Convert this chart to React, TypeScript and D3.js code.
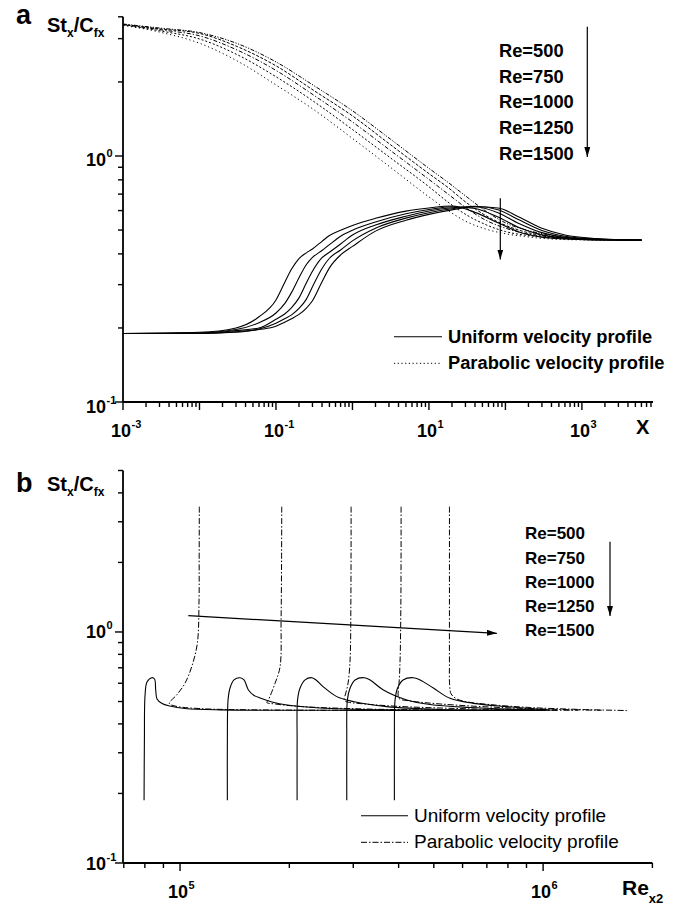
import React from 'react';
import * as d3 from 'd3';

const FONT = "'Liberation Sans', Arial, Helvetica, sans-serif";

// ---------- Panel a data (X vs St_x/C_fx) ----------
const RE_LABELS = ['Re=500', 'Re=750', 'Re=1000', 'Re=1250', 'Re=1500'];

const XA_UNIFORM = [0.001, 0.01, 0.03, 0.06, 0.1, 0.13, 0.16, 0.2, 0.25, 0.3, 0.4, 0.5, 0.7, 1, 2, 5, 10, 20, 40, 80, 150, 300, 600, 1500, 6000];
const UA_500 = [0.19, 0.192, 0.2, 0.222, 0.26, 0.306, 0.347, 0.383, 0.404, 0.419, 0.45, 0.475, 0.499, 0.522, 0.558, 0.597, 0.615, 0.626, 0.59, 0.535, 0.491, 0.468, 0.46, 0.456, 0.455];
const UA_750 = [0.19, 0.191, 0.197, 0.21, 0.23, 0.251, 0.279, 0.32, 0.362, 0.387, 0.413, 0.436, 0.472, 0.499, 0.539, 0.582, 0.606, 0.622, 0.612, 0.565, 0.512, 0.478, 0.463, 0.456, 0.455];
const UA_1000 = [0.19, 0.19, 0.195, 0.2, 0.217, 0.228, 0.242, 0.265, 0.305, 0.34, 0.386, 0.406, 0.439, 0.477, 0.524, 0.569, 0.598, 0.616, 0.622, 0.588, 0.532, 0.488, 0.467, 0.458, 0.455];
const UA_1250 = [0.19, 0.19, 0.193, 0.198, 0.209, 0.218, 0.226, 0.24, 0.262, 0.294, 0.349, 0.384, 0.415, 0.452, 0.509, 0.559, 0.588, 0.61, 0.625, 0.605, 0.55, 0.498, 0.472, 0.46, 0.455];
const UA_1500 = [0.19, 0.19, 0.192, 0.197, 0.203, 0.211, 0.218, 0.227, 0.241, 0.258, 0.308, 0.351, 0.396, 0.429, 0.495, 0.548, 0.579, 0.604, 0.622, 0.615, 0.565, 0.508, 0.477, 0.462, 0.455];

const XA_PARABOLIC = [0.001, 0.00316, 0.01, 0.0316, 0.1, 0.316, 1, 3.16, 10, 17.8, 31.6, 56.2, 100, 178, 316, 1000, 6000];
const PA_500 = [3.4, 3.179, 2.874, 2.428, 1.945, 1.539, 1.179, 0.898, 0.682, 0.6, 0.539, 0.504, 0.483, 0.471, 0.462, 0.456, 0.455];
const PA_750 = [3.41, 3.22, 2.99, 2.576, 2.1, 1.661, 1.281, 0.981, 0.75, 0.649, 0.574, 0.525, 0.493, 0.477, 0.468, 0.458, 0.455];
const PA_1000 = [3.42, 3.256, 3.08, 2.69, 2.228, 1.762, 1.375, 1.051, 0.803, 0.7, 0.611, 0.547, 0.509, 0.485, 0.472, 0.46, 0.455];
const PA_1250 = [3.43, 3.283, 3.15, 2.78, 2.326, 1.842, 1.456, 1.11, 0.848, 0.744, 0.643, 0.571, 0.523, 0.492, 0.475, 0.461, 0.455];
const PA_1500 = [3.44, 3.307, 3.175, 2.86, 2.413, 1.929, 1.527, 1.169, 0.891, 0.781, 0.68, 0.595, 0.535, 0.502, 0.482, 0.462, 0.455];

// ---------- Panel b data (Re_x2 vs St_x/C_fx) ----------
const UB_500_R = [79600, 79770, 80110, 81100, 83570, 85060, 85700, 86440, 89230, 93860, 103200, 128900, 300000, 900000];
const UB_500_V = [0.187, 0.341, 0.534, 0.607, 0.634, 0.626, 0.561, 0.513, 0.49, 0.478, 0.4665, 0.46, 0.458, 0.458];
const UB_750_R = [135000, 135000, 135600, 137300, 140800, 146300, 150100, 154300, 159900, 166100, 179200, 197100, 243100, 355600, 950000];
const UB_750_V = [0.187, 0.341, 0.508, 0.572, 0.62, 0.634, 0.62, 0.561, 0.531, 0.518, 0.498, 0.483, 0.469, 0.46, 0.458];
const UB_1000_R = [210100, 210100, 210700, 214100, 221000, 230600, 236900, 247700, 270200, 299700, 371000, 520300, 1000000];
const UB_1000_V = [0.187, 0.341, 0.508, 0.572, 0.62, 0.634, 0.62, 0.58, 0.525, 0.5, 0.475, 0.462, 0.458];
const UB_1250_R = [287900, 287900, 289000, 294000, 303500, 321300, 333700, 363200, 421300, 488400, 629500, 864300, 1030000];
const UB_1250_V = [0.187, 0.341, 0.508, 0.572, 0.62, 0.634, 0.62, 0.561, 0.508, 0.485, 0.471, 0.462, 0.458];
const UB_1500_R = [389400, 389400, 391100, 397400, 411500, 439200, 458300, 498600, 554300, 642700, 794300, 981100, 1050000];
const UB_1500_V = [0.187, 0.341, 0.508, 0.572, 0.62, 0.634, 0.62, 0.572, 0.516, 0.491, 0.475, 0.463, 0.459];

const PB_500_R = [113000, 112900, 112800, 111600, 107700, 103200, 97930, 93440, 96880, 113500, 166100, 400000, 1000000];
const PB_500_V = [3.487, 2.05, 1.375, 0.894, 0.708, 0.6, 0.534, 0.491, 0.478, 0.466, 0.46, 0.458, 0.458];
const PB_750_R = [190600, 190400, 189800, 188600, 182700, 175100, 173400, 182700, 214100, 294000, 458300, 1100000];
const PB_750_V = [3.487, 2.05, 1.127, 0.708, 0.6, 0.508, 0.495, 0.488, 0.476, 0.466, 0.46, 0.458];
const PB_1000_R = [295900, 295500, 294000, 290300, 285700, 283000, 286600, 313200, 403700, 590700, 864300, 1250000];
const PB_1000_V = [3.487, 1.375, 0.756, 0.601, 0.539, 0.51, 0.5, 0.49, 0.476, 0.466, 0.46, 0.458];
const PB_1250_R = [406300, 405800, 403700, 401100, 398600, 401100, 430100, 520300, 761300, 1114000, 1450000];
const PB_1250_V = [3.487, 1.375, 0.756, 0.601, 0.539, 0.515, 0.503, 0.488, 0.471, 0.462, 0.458];
const PB_1500_R = [552100, 552100, 552100, 552800, 558100, 576100, 609900, 714500, 921000, 1265000, 1703000];
const PB_1500_V = [3.487, 1.375, 0.756, 0.59, 0.539, 0.515, 0.5, 0.485, 0.471, 0.462, 0.457];

const LEGEND_LABELS = ['Uniform velocity profile', 'Parabolic velocity profile'];

// tick label exponents
const XA_LABEL_EXP = [-3, -1, 1, 3];
const YA_LABEL_EXP = [-1, 0];
const XB_LABEL_EXP = [5, 6];
const YB_LABEL_EXP = [-1, 0];

type Pt = { x: number; y: number };
const zip = (xs: number[], ys: number[]): Pt[] => xs.map((x, i) => ({ x, y: ys[i] }));

function logTicks(min: number, max: number) {
  const out: { v: number; major: boolean }[] = [];
  const e0 = Math.floor(Math.log10(min));
  const e1 = Math.ceil(Math.log10(max));
  for (let e = e0; e <= e1; e++) {
    for (let m = 1; m <= 9; m++) {
      const v = m * Math.pow(10, e);
      if (v >= min * 0.9999 && v <= max * 1.0001) out.push({ v, major: m === 1 });
    }
  }
  return out;
}

const supStr = (e: number) => (e < 0 ? '-' + Math.abs(e) : String(e));

export default function App() {
  const W = 681;
  const H = 905;

  const xA = d3.scaleLog().domain([1e-3, 8500]).range([123, 653]);
  const yA = d3.scaleLog().domain([0.1, 3.68]).range([402, 16.8]);
  const xB = d3.scaleLog().domain([7e4, 2e6]).range([123.8, 652.4]);
  const yB = d3.scaleLog().domain([0.1, 5]).range([863, 470.5]);

  const lineA = d3.line<Pt>().x(d => xA(d.x)).y(d => yA(d.y)).curve(d3.curveMonotoneX);
  const lineB = d3.line<Pt>().x(d => xB(d.x)).y(d => yB(d.y)).curve(d3.curveCatmullRom.alpha(0.5));

  const uniformA = [UA_500, UA_750, UA_1000, UA_1250, UA_1500];
  const parabolicA = [PA_500, PA_750, PA_1000, PA_1250, PA_1500];
  const dashA = ['1.2,2.8', '2,2', '4,2,1.2,2', '3,1.6', '4,1.5,1.2,1.5,1.2,1.5'];

  const uniformB = [
    zip(UB_500_R, UB_500_V), zip(UB_750_R, UB_750_V), zip(UB_1000_R, UB_1000_V),
    zip(UB_1250_R, UB_1250_V), zip(UB_1500_R, UB_1500_V),
  ];
  const parabolicB = [
    zip(PB_500_R, PB_500_V), zip(PB_750_R, PB_750_V), zip(PB_1000_R, PB_1000_V),
    zip(PB_1250_R, PB_1250_V), zip(PB_1500_R, PB_1500_V),
  ];
  const dashB = '6,2,1.5,2';

  const axisW = 1.8;
  const majLen = 8;
  const minLen = 5;

  // ticks
  const xaTicks = logTicks(1e-3, 8500);
  const yaTicks = [...logTicks(0.1, 3.68), { v: 3.68, major: false }];
  const xbTicks = logTicks(7e4, 2e6);
  const ybTicks = logTicks(0.1, 5);

  const boldText = { fontFamily: FONT, fontWeight: 700, fill: '#000' } as const;

  const renderXLabel = (x: number, y: number, e: number, key: string, size = 18) => (
    <g key={key}>
      <text x={x + 8} y={y} textAnchor="end" fontSize={size} style={boldText}>10</text>
      <text x={x + 8.5} y={y - 9} fontSize={11} style={boldText}>{supStr(e)}</text>
    </g>
  );
  const renderYLabel = (y: number, e: number, key: string, size = 18) => (
    <g key={key}>
      <text x={106} y={y} textAnchor="end" fontSize={size} style={boldText}>10</text>
      <text x={106.5} y={y - 9} fontSize={11} style={boldText}>{supStr(e)}</text>
    </g>
  );

  return (
    <svg width={W} height={H} viewBox={`0 0 ${W} ${H}`}
      style={{ position: 'absolute', left: 0, top: 0, background: '#fff' }}>
      <defs>
        <marker id="arr" viewBox="0 0 10 6" refX="10" refY="3" markerWidth="10" markerHeight="6"
          markerUnits="userSpaceOnUse" orient="auto">
          <path d="M0,0 L10,3 L0,6 z" fill="#000" />
        </marker>
      </defs>
      <rect x={0} y={0} width={W} height={H} fill="#fff" />

      {/* ================= Panel a ================= */}
      <g>
        {parabolicA.map((vals, i) => (
          <path key={'pa' + i} d={lineA(zip(XA_PARABOLIC, vals)) || ''} fill="none" stroke="#000"
            strokeWidth={1} strokeDasharray={dashA[i]} />
        ))}
        {uniformA.map((vals, i) => (
          <path key={'ua' + i} d={lineA(zip(XA_UNIFORM, vals)) || ''} fill="none" stroke="#000" strokeWidth={1.1} />
        ))}

        {/* axes */}
        <line x1={xA.range()[0]} x2={xA.range()[1]} y1={yA.range()[0]} y2={yA.range()[0]} stroke="#000" strokeWidth={axisW} />
        <line x1={xA.range()[0]} x2={xA.range()[0]} y1={yA.range()[0]} y2={yA.range()[1]} stroke="#000" strokeWidth={axisW} />
        {xaTicks.map((t, i) => (
          <line key={'xat' + i} x1={xA(t.v)} x2={xA(t.v)} y1={yA.range()[0]} y2={yA.range()[0] + (t.major ? majLen : minLen)}
            stroke="#000" strokeWidth={1.4} />
        ))}
        {yaTicks.map((t, i) => (
          <line key={'yat' + i} y1={yA(t.v)} y2={yA(t.v)} x1={xA.range()[0]} x2={xA.range()[0] - (t.major ? majLen : minLen)}
            stroke="#000" strokeWidth={1.4} />
        ))}
        {XA_LABEL_EXP.map(e => renderXLabel(xA(Math.pow(10, e)), 437, e, 'xal' + e))}
        {YA_LABEL_EXP.map(e => renderYLabel(yA(Math.pow(10, e)) + 10.5, e, 'yal' + e))}

        <text x={636} y={434} fontSize={20} style={boldText}>X</text>
        <text x={16} y={23.5} fontSize={27} style={boldText}>a</text>
        <text x={47} y={31.5} fontSize={20} style={boldText}>
          St<tspan fontSize={12} dy={5}>x</tspan><tspan fontSize={20} dy={-5}>/C</tspan><tspan fontSize={12} dy={5}>fx</tspan>
        </text>

        {RE_LABELS.map((s, i) => (
          <text key={'rea' + i} x={499} y={56.7 + i * 25.8} fontSize={18.3} style={boldText}>{s}</text>
        ))}
        <line x1={587.3} x2={587.3} y1={26.7} y2={157} stroke="#000" strokeWidth={1.2} markerEnd="url(#arr)" />
        <line x1={500.3} x2={500.3} y1={198.3} y2={259.5} stroke="#000" strokeWidth={1.2} markerEnd="url(#arr)" />

        {/* legend */}
        <line x1={394} x2={442} y1={336.7} y2={336.7} stroke="#000" strokeWidth={1.1} />
        <text x={448} y={343.3} fontSize={18.3} style={boldText}>{LEGEND_LABELS[0]}</text>
        <line x1={394} x2={442} y1={363.3} y2={363.3} stroke="#000" strokeWidth={1} strokeDasharray="1.2,2.5" />
        <text x={448} y={368.5} fontSize={18.3} style={boldText}>{LEGEND_LABELS[1]}</text>
      </g>

      {/* ================= Panel b ================= */}
      <g>
        {parabolicB.map((pts, i) => (
          <path key={'pb' + i} d={lineB(pts) || ''} fill="none" stroke="#000" strokeWidth={1}
            strokeDasharray={dashB} />
        ))}
        {uniformB.map((pts, i) => (
          <path key={'ub' + i} d={lineB(pts) || ''} fill="none" stroke="#000" strokeWidth={1.1} />
        ))}

        <line x1={123} x2={xB.range()[1]} y1={yB.range()[0]} y2={yB.range()[0]} stroke="#000" strokeWidth={axisW} />
        <line x1={123} x2={123} y1={yB.range()[0]} y2={yB.range()[1]} stroke="#000" strokeWidth={axisW} />
        {xbTicks.map((t, i) => (
          <line key={'xbt' + i} x1={xB(t.v)} x2={xB(t.v)} y1={yB.range()[0]} y2={yB.range()[0] + (t.major ? majLen : minLen)}
            stroke="#000" strokeWidth={1.4} />
        ))}
        {ybTicks.map((t, i) => (
          <line key={'ybt' + i} y1={yB(t.v)} y2={yB(t.v)} x1={123} x2={123 - (t.major ? majLen : minLen)}
            stroke="#000" strokeWidth={1.4} />
        ))}
        {XB_LABEL_EXP.map(e => renderXLabel(xB(Math.pow(10, e)), 898, e, 'xbl' + e))}
        {YB_LABEL_EXP.map(e => renderYLabel(yB(Math.pow(10, e)) + 6.5, e, 'ybl' + e))}

        <text x={622} y={895} fontSize={21} style={boldText}>
          Re<tspan fontSize={13} dy={8}>x2</tspan>
        </text>
        <text x={16} y={491.7} fontSize={27} style={boldText}>b</text>
        <text x={47} y={490.7} fontSize={20} style={boldText}>
          St<tspan fontSize={12} dy={5}>x</tspan><tspan fontSize={20} dy={-5}>/C</tspan><tspan fontSize={12} dy={5}>fx</tspan>
        </text>

        {RE_LABELS.map((s, i) => (
          <text key={'reb' + i} x={525} y={539.3 + i * 24.2} fontSize={17} style={boldText}>{s}</text>
        ))}
        <line x1={610} x2={610} y1={541.7} y2={616} stroke="#000" strokeWidth={1.2} markerEnd="url(#arr)" />
        <line x1={xB(105400)} y1={yB(1.176)} x2={xB(745700)} y2={yB(0.987)} stroke="#000" strokeWidth={1.2} markerEnd="url(#arr)" />

        <line x1={361} x2={408} y1={815.7} y2={815.7} stroke="#000" strokeWidth={1.1} />
        <text x={414} y={821.7} fontSize={19} fontFamily={FONT} fill="#000">{LEGEND_LABELS[0]}</text>
        <line x1={361} x2={408} y1={842.3} y2={842.3} stroke="#000" strokeWidth={1} strokeDasharray={dashB} />
        <text x={414} y={848} fontSize={19} fontFamily={FONT} fill="#000">{LEGEND_LABELS[1]}</text>
      </g>
    </svg>
  );
}
